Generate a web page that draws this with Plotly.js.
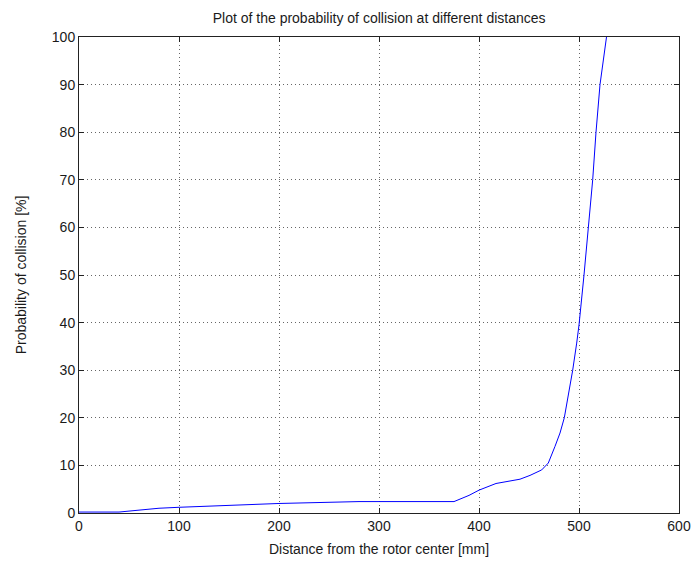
<!DOCTYPE html>
<html>
<head>
<meta charset="utf-8">
<script src="https://cdn.plot.ly/plotly-3.0.1.min.js"></script>
<style>html,body{margin:0;padding:0;background:#fff;}#chart{width:695px;height:565px;}</style>
</head>
<body>
<div id="chart"></div>
<script>
var distance = [0, 40, 60, 80, 100, 120, 150, 200, 230, 280, 375, 390, 400, 417, 441, 451, 462.7, 469.3, 476, 481, 485.3, 489.3, 493.7, 497.7, 500, 505, 509.3, 513.7, 517, 521, 527.5];
var probability = [0.2, 0.2, 0.6, 1.0, 1.2, 1.4, 1.6, 2.0, 2.2, 2.4, 2.4, 3.7, 4.8, 6.2, 7.1, 7.9, 9.05, 10.5, 14, 16.8, 20, 24.5, 30, 35.7, 39.5, 50, 60, 70, 80, 90, 100];
var xTicks = [0, 100, 200, 300, 400, 500, 600];
var yTicks = [0, 10, 20, 30, 40, 50, 60, 70, 80, 90, 100];

var fontFam = '"Liberation Sans", Arial, sans-serif';
var textColor = '#1a1a1a';
var trace = {
  x: distance, y: probability, type: 'scatter', mode: 'lines',
  line: {color: '#0000ff', width: 1}, hoverinfo: 'skip'
};
var axisCommon = {
  showline: true, linecolor: '#222', linewidth: 1, mirror: 'ticks',
  ticks: 'inside', ticklen: 5, tickcolor: '#222',
  showgrid: true, gridcolor: '#666', griddash: '1px,3px', gridwidth: 1,
  zeroline: false, tickfont: {family: fontFam, size: 14, color: textColor}
};
var layout = {
  width: 695, height: 565,
  margin: {l: 79, r: 16, t: 37, b: 52},
  paper_bgcolor: '#fff', plot_bgcolor: '#fff',
  showlegend: false,
  title: {text: 'Plot of the probability of collision at different distances', font: {family: fontFam, size: 14, color: textColor}, x: 0.5455, xanchor: 'center', y: 0.968, yanchor: 'middle'},
  xaxis: Object.assign({}, axisCommon, {range: [0, 600], tickvals: xTicks, ticktext: xTicks.map(String), title: {text: 'Distance from the rotor center [mm]', font: {family: fontFam, size: 14, color: textColor}, standoff: 11}}),
  yaxis: Object.assign({}, axisCommon, {range: [0, 100], tickvals: yTicks, ticktext: yTicks.map(String), title: {text: 'Probability of collision [%]', font: {family: fontFam, size: 14, color: textColor}, standoff: 21}})
};
Plotly.newPlot('chart', [trace], layout, {displayModeBar: false, staticPlot: true});
</script>
</body>
</html>
